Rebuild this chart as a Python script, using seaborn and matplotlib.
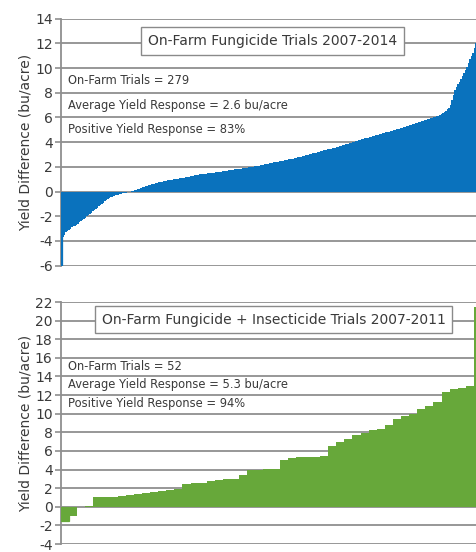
import matplotlib
matplotlib.use("Agg")
import matplotlib.pyplot as plt
import seaborn as sns
import numpy as np
import pandas as pd

# ---------------- data ----------------
fungicide_diff = [
    -6.0,
    -3.7, -3.5, -3.3,
    -3.2, -3.1, -3.0, -2.9, -2.8, -2.8, -2.7, -2.6, -2.5, -2.4, -2.3,
    -2.2, -2.1, -2.0, -1.9, -1.8, -1.7, -1.6,
    -1.5, -1.4, -1.3, -1.2, -1.1, -1.0, -0.9, -0.8, -0.7, -0.6, -0.5,
    -0.45, -0.4, -0.35, -0.3, -0.27, -0.24, -0.2, -0.17, -0.14, -0.11, -0.08, -0.06, -0.04, -0.02,
    0.02, 0.05, 0.1, 0.15, 0.2, 0.25, 0.3, 0.34, 0.38, 0.42, 0.46, 0.5, 0.54, 0.58, 0.62, 0.65, 0.68, 0.71, 0.74, 0.77, 0.8,
    0.83, 0.86, 0.88, 0.9, 0.93, 0.95, 0.97, 1.0, 1.02, 1.04, 1.06, 1.08, 1.1, 1.12, 1.14, 1.16, 1.18, 1.2, 1.23, 1.26, 1.29, 1.32, 1.35,
    1.37, 1.39, 1.4, 1.42, 1.43, 1.45, 1.46, 1.48, 1.5, 1.51, 1.53, 1.54, 1.56, 1.57, 1.59, 1.6, 1.62, 1.64, 1.65, 1.67, 1.69, 1.71, 1.73, 1.75,
    1.77, 1.79, 1.81, 1.83, 1.85, 1.87, 1.89, 1.91, 1.93, 1.95, 1.97, 1.99, 2.01, 2.03, 2.05, 2.07, 2.09, 2.11, 2.13, 2.15, 2.18, 2.2,
    2.23, 2.26, 2.28, 2.31, 2.33, 2.36, 2.38, 2.41, 2.43, 2.46, 2.48, 2.51, 2.53, 2.56, 2.58, 2.61, 2.63, 2.66, 2.68, 2.71, 2.74, 2.77, 2.8,
    2.83, 2.86, 2.9, 2.93, 2.96, 3.0, 3.03, 3.06, 3.1, 3.13, 3.16, 3.2, 3.23, 3.26, 3.3, 3.33, 3.36, 3.39, 3.42, 3.45, 3.47, 3.5,
    3.54, 3.57, 3.61, 3.64, 3.68, 3.71, 3.75, 3.79, 3.82, 3.86, 3.89, 3.93, 3.96, 4.0, 4.04, 4.07, 4.11, 4.15, 4.19, 4.22, 4.26, 4.3,
    4.34, 4.37, 4.41, 4.44, 4.48, 4.51, 4.55, 4.58, 4.62, 4.65, 4.69, 4.72, 4.76, 4.79, 4.83, 4.86, 4.9, 4.93, 4.97, 5.0, 5.04, 5.07, 5.1,
    5.14, 5.18, 5.22, 5.26, 5.3, 5.34, 5.38, 5.42, 5.46, 5.5, 5.54, 5.58, 5.62, 5.66, 5.7, 5.74, 5.78, 5.82, 5.86, 5.89, 5.92, 5.95,
    6.0, 6.05, 6.1, 6.15, 6.2, 6.27, 6.35,
    6.45, 6.55, 6.65, 6.75, 7.0,
    7.4, 7.8, 8.2, 8.5,
    8.7, 8.9, 9.1, 9.35, 9.6, 9.85,
    10.1, 10.4, 10.7, 10.95, 11.2,
    11.6, 12.0, 12.5,
]

combo_diff = [
    -1.5, -1.0, 0.0, 0.1,
    1.0, 1.05, 1.1, 1.15, 1.25, 1.4, 1.5, 1.6, 1.7, 1.8, 1.9,
    2.5, 2.55, 2.6, 2.8, 2.9, 2.95, 3.0,
    3.45, 3.9, 4.0, 4.05, 4.1,
    5.0, 5.2, 5.3, 5.35, 5.4, 5.5,
    6.5, 7.0, 7.3, 7.7, 7.9, 8.2, 8.4, 8.75,
    9.4, 9.7, 10.0, 10.5, 10.8, 11.3,
    12.3, 12.6, 12.8, 13.0, 21.5,
]

top_title = "On-Farm Fungicide Trials 2007-2014"
top_stats = ["On-Farm Trials = 279",
             "Average Yield Response = 2.6 bu/acre",
             "Positive Yield Response = 83%"]
top_ticks = [-6, -4, -2, 0, 2, 4, 6, 8, 10, 12, 14]

bot_title = "On-Farm Fungicide + Insecticide Trials 2007-2011"
bot_stats = ["On-Farm Trials = 52",
             "Average Yield Response = 5.3 bu/acre",
             "Positive Yield Response = 94%"]
bot_ticks = [-4, -2, 0, 2, 4, 6, 8, 10, 12, 14, 16, 18, 20, 22]

ylabel = "Yield Difference (bu/acre)"

# ---------------- style ----------------
sns.set_theme(style="white")
plt.rcParams["font.family"] = ["DejaVu Sans"]

BLUE = "#0a72bd"
GREEN = "#67a83a"
GRID = "#8f8f8f"
TXT = "#3a3a3a"

W, H = 477, 552
fig = plt.figure(figsize=(W / 100, H / 100), dpi=100)

left_px = 61


def make_ax(top_px, bot_px, right_px):
    return fig.add_axes([left_px / W, 1 - bot_px / H,
                         (right_px - left_px) / W, (bot_px - top_px) / H])


def style(ax, ticks, n, color):
    ax.set_ylim(ticks[0], ticks[-1])
    ax.set_yticks(ticks)
    ax.set_yticklabels([str(t) for t in ticks], fontsize=10, color=TXT)
    ax.set_xlim(-0.5, n - 0.5)
    ax.set_xticks([])
    ax.set_xlabel("")
    ax.set_ylabel(ylabel, fontsize=10, color=TXT, labelpad=2)
    ax.set_axisbelow(True)
    ax.yaxis.grid(True, color=GRID, linewidth=1.3, zorder=0)
    ax.xaxis.grid(False)
    for s in ["top", "right", "bottom"]:
        ax.spines[s].set_visible(False)
    ax.spines["left"].set_color(GRID)
    ax.spines["left"].set_linewidth(1.3)
    ax.spines["left"].set_zorder(2)
    ax.tick_params(axis="y", left=True, length=4, width=1.2, color=GRID, pad=2)
    ax.set_facecolor("white")
    for i, p in enumerate(ax.patches):
        p.set_zorder(3)
        if i == 0:
            p.set_antialiased(True)
            p.set_edgecolor(color)
            p.set_linewidth(0.9)
        else:
            p.set_antialiased(False)


# top panel
ax1 = make_ax(18.7, 265.7, 478)
df1 = pd.DataFrame({"trial": np.arange(len(fungicide_diff)), "diff": fungicide_diff})
sns.barplot(data=df1, x="trial", y="diff", color=BLUE, saturation=1, width=1.0,
            linewidth=0, ax=ax1)
style(ax1, top_ticks, len(fungicide_diff), BLUE)
ax1.text(0.508, 12.2, top_title, transform=ax1.get_yaxis_transform(),
         ha="center", va="center", fontsize=10, color=TXT, zorder=5,
         bbox=dict(boxstyle="square,pad=0.5", fc="white", ec="#8a8a8a", lw=1))
for txt, yv in zip(top_stats, [9, 7, 5]):
    ax1.text(0.017, yv, txt, transform=ax1.get_yaxis_transform(),
             ha="left", va="center", fontsize=8.3, color=TXT, zorder=5)

# bottom panel
ax2 = make_ax(302, 544, 482)
df2 = pd.DataFrame({"trial": np.arange(len(combo_diff)), "diff": combo_diff})
sns.barplot(data=df2, x="trial", y="diff", color=GREEN, saturation=1, width=1.0,
            linewidth=0, ax=ax2)
style(ax2, bot_ticks, len(combo_diff), GREEN)
ax2.text(0.505, 20.1, bot_title, transform=ax2.get_yaxis_transform(),
         ha="center", va="center", fontsize=10, color=TXT, zorder=5,
         bbox=dict(boxstyle="square,pad=0.45", fc="white", ec="#8a8a8a", lw=1))
for txt, yv in zip(bot_stats, [15.1, 13.1, 11.1]):
    ax2.text(0.017, yv, txt, transform=ax2.get_yaxis_transform(),
             ha="left", va="center", fontsize=8.3, color=TXT, zorder=5)

fig.savefig("out.png", dpi=100, facecolor="white")
